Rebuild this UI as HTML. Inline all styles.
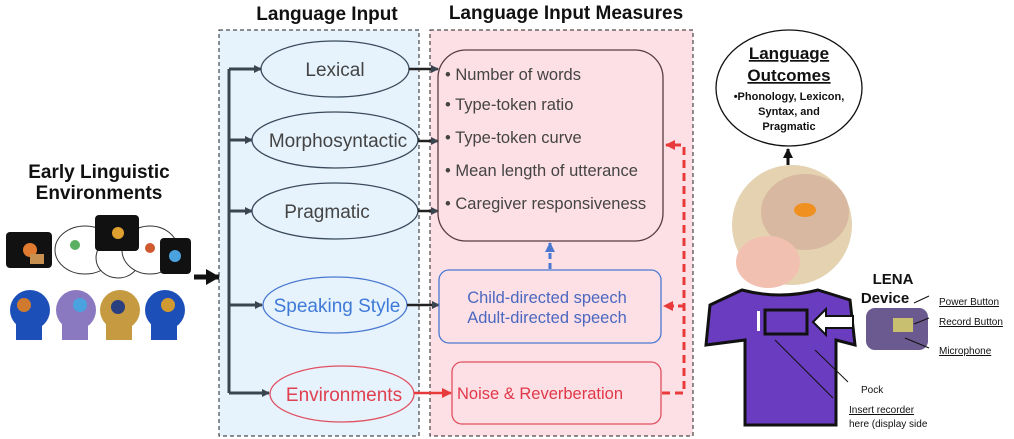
<!DOCTYPE html>
<html><head><meta charset="utf-8"><style>
body{margin:0;background:#fff;}
svg{display:block;font-family:"Liberation Sans",Arial,sans-serif;}
</style></head><body>
<svg width="1014" height="439" viewBox="0 0 1014 439" xmlns="http://www.w3.org/2000/svg">
<defs>
<marker id="ad" markerWidth="8" markerHeight="8" refX="7" refY="4" orient="auto" markerUnits="userSpaceOnUse"><path d="M0,0L8,4L0,8z" fill="#3a4550"/></marker>
<marker id="ab" markerWidth="10" markerHeight="10" refX="9" refY="5" orient="auto" markerUnits="userSpaceOnUse"><path d="M0,0L10,5L0,10z" fill="#111"/></marker>
<marker id="abig" markerWidth="14" markerHeight="16" refX="13" refY="8" orient="auto" markerUnits="userSpaceOnUse"><path d="M0,0L14,8L0,16z" fill="#111"/></marker>
<marker id="ar" markerWidth="10" markerHeight="10" refX="9" refY="5" orient="auto" markerUnits="userSpaceOnUse"><path d="M0,0L10,5L0,10z" fill="#e83a3a"/></marker>
<marker id="abl" markerWidth="10" markerHeight="10" refX="9" refY="5" orient="auto" markerUnits="userSpaceOnUse"><path d="M0,0L10,5L0,10z" fill="#4a78d0"/></marker>
</defs>
<!-- left title -->
<text x="99" y="178" font-size="19" font-weight="bold" text-anchor="middle" fill="#111">Early Linguistic</text>
<text x="99" y="199" font-size="19" font-weight="bold" text-anchor="middle" fill="#111">Environments</text>
<!-- speech bubbles -->
<ellipse cx="85" cy="250" rx="30" ry="24" fill="#fff" stroke="#333"/>
<ellipse cx="118" cy="258" rx="22" ry="20" fill="#fff" stroke="#333"/>
<ellipse cx="150" cy="250" rx="28" ry="24" fill="#fff" stroke="#333"/>
<rect x="6" y="232" width="46" height="36" rx="4" fill="#111"/>
<rect x="95" y="215" width="44" height="36" rx="4" fill="#111"/>
<rect x="160" y="238" width="31" height="36" rx="4" fill="#111"/>
<circle cx="30" cy="250" r="7" fill="#e07a30"/><rect x="30" y="254" width="14" height="10" fill="#c89050"/><circle cx="118" cy="233" r="6" fill="#e0a030"/><circle cx="175" cy="256" r="6" fill="#4aa3df"/>
<circle cx="75" cy="245" r="5" fill="#5ab060"/><circle cx="150" cy="248" r="5" fill="#d05a30"/>
<!-- heads -->
<circle cx="30" cy="310" r="20" fill="#1d4fb8"/><rect x="16" y="318" width="26" height="22" fill="#1d4fb8"/>
<circle cx="76" cy="310" r="20" fill="#8a78c0"/><rect x="62" y="318" width="26" height="22" fill="#8a78c0"/>
<circle cx="120" cy="310" r="20" fill="#c59a40"/><rect x="106" y="318" width="26" height="22" fill="#c59a40"/>
<circle cx="165" cy="310" r="20" fill="#1d4fb8"/><rect x="151" y="318" width="26" height="22" fill="#1d4fb8"/>
<circle cx="24" cy="305" r="7" fill="#d07a30"/><circle cx="80" cy="305" r="7" fill="#4aa3df"/><circle cx="118" cy="307" r="7" fill="#2a3f80"/><circle cx="168" cy="305" r="7" fill="#d09a30"/>
<!-- panels -->
<rect x="219" y="30" width="200" height="406" fill="#e6f3fd" stroke="#222" stroke-dasharray="4,3"/>
<rect x="430" y="30" width="263" height="406" fill="#fde0e6" stroke="#222" stroke-dasharray="4,3"/>
<text x="327" y="20" font-size="19" font-weight="bold" text-anchor="middle" fill="#111">Language Input</text>
<text x="566" y="19" font-size="19" font-weight="bold" text-anchor="middle" fill="#111">Language Input Measures</text>
<!-- big arrow in -->
<line x1="194" y1="277" x2="219" y2="277" stroke="#111" stroke-width="5" marker-end="url(#abig)"/>
<!-- trunk -->
<path d="M229,69V393" stroke="#3a4550" stroke-width="3" fill="none"/>
<line x1="229" y1="69" x2="261" y2="69" stroke="#3a4550" stroke-width="3" marker-end="url(#ad)"/>
<line x1="229" y1="140" x2="252" y2="140" stroke="#3a4550" stroke-width="3" marker-end="url(#ad)"/>
<line x1="229" y1="211" x2="252" y2="211" stroke="#3a4550" stroke-width="3" marker-end="url(#ad)"/>
<line x1="229" y1="305" x2="262" y2="305" stroke="#3a4550" stroke-width="3" marker-end="url(#ad)"/>
<line x1="229" y1="393" x2="269" y2="393" stroke="#3a4550" stroke-width="3" marker-end="url(#ad)"/>
<!-- ellipses -->
<g fill="none" stroke-width="1.3">
<ellipse cx="335" cy="69" rx="74" ry="28" stroke="#3a4a5a"/>
<ellipse cx="335" cy="140" rx="83" ry="28" stroke="#3a4a5a"/>
<ellipse cx="335" cy="211" rx="83" ry="28" stroke="#3a4a5a"/>
<ellipse cx="335" cy="305" rx="72" ry="28" stroke="#4a78d0"/>
<ellipse cx="342" cy="394" rx="72" ry="28" stroke="#e05060"/>
</g>
<g font-size="19" text-anchor="middle">
<text x="335" y="76" fill="#444">Lexical</text>
<text x="338" y="147" fill="#444">Morphosyntactic</text>
<text x="327" y="218" fill="#444">Pragmatic</text>
<text x="337" y="312" fill="#3f7ad8">Speaking Style</text>
<text x="344" y="401" fill="#e04050">Environments</text>
</g>
<!-- connectors to measures -->
<line x1="409" y1="69" x2="438" y2="69" stroke="#222" stroke-width="2.5" marker-end="url(#ad)"/>
<line x1="418" y1="141" x2="438" y2="141" stroke="#222" stroke-width="2.5" marker-end="url(#ad)"/>
<line x1="418" y1="211" x2="438" y2="211" stroke="#222" stroke-width="2.5" marker-end="url(#ad)"/>
<line x1="407" y1="305" x2="439" y2="305" stroke="#222" stroke-width="2.5" marker-end="url(#ad)"/>
<line x1="414" y1="393" x2="451" y2="393" stroke="#e83a3a" stroke-width="2.5" marker-end="url(#ar)"/>
<!-- boxes -->
<rect x="438" y="50" width="225" height="191" rx="28" fill="none" stroke="#5a3a40" stroke-width="1.3"/>
<g font-size="16.5" fill="#444">
<text x="445" y="80">• Number of words</text>
<text x="445" y="110">• Type-token ratio</text>
<text x="445" y="143">• Type-token curve</text>
<text x="445" y="176">• Mean length of utterance</text>
<text x="445" y="209">• Caregiver responsiveness</text>
</g>
<rect x="439" y="270" width="222" height="73" rx="10" fill="none" stroke="#4a78d0" stroke-width="1.3"/>
<text x="547" y="303" font-size="16.5" fill="#4a68c0" text-anchor="middle">Child-directed speech</text>
<text x="547" y="323" font-size="16.5" fill="#4a68c0" text-anchor="middle">Adult-directed speech</text>
<rect x="452" y="362" width="209" height="62" rx="10" fill="none" stroke="#e05060" stroke-width="1.3"/>
<text x="457" y="399" font-size="16.5" fill="#e03848">Noise &amp; Reverberation</text>
<!-- dashed -->
<line x1="550" y1="269" x2="550" y2="243" stroke="#4a78d0" stroke-width="3" stroke-dasharray="6,4" marker-end="url(#abl)"/>
<path d="M662,393H684V145H666" stroke="#e83a3a" stroke-width="3" fill="none" stroke-dasharray="8,5" marker-end="url(#ar)"/>
<line x1="684" y1="306" x2="664" y2="306" stroke="#e83a3a" stroke-width="3" stroke-dasharray="6,4" marker-end="url(#ar)"/>
<!-- outcomes -->
<ellipse cx="789" cy="88" rx="73" ry="58" fill="#fff" stroke="#111" stroke-width="1.3"/>
<g font-weight="bold" text-anchor="middle" fill="#111">
<text x="789" y="59" font-size="17" text-decoration="underline">Language</text>
<text x="789" y="81" font-size="17" text-decoration="underline">Outcomes</text>
<text x="789" y="100" font-size="11">•Phonology, Lexicon,</text>
<text x="789" y="115" font-size="11">Syntax, and</text>
<text x="789" y="130" font-size="11">Pragmatic</text>
</g>
<line x1="788" y1="165" x2="788" y2="149" stroke="#111" stroke-width="3" marker-end="url(#ab)"/>
<!-- baby -->
<ellipse cx="792" cy="225" rx="60" ry="60" fill="#e4d2b0"/>
<ellipse cx="805" cy="212" rx="44" ry="38" fill="#d8b8a0"/>
<ellipse cx="768" cy="262" rx="32" ry="26" fill="#f2c0b0"/>
<ellipse cx="805" cy="210" rx="11" ry="7" fill="#f09020"/>
<!-- shirt -->
<path d="M742,290 Q780,300 818,290 L850,300 L855,345 L836,340 L836,425 L745,425 L745,340 L706,345 L710,305 Z" fill="#6a3cc0" stroke="#111" stroke-width="3"/>
<rect x="757" y="311" width="3" height="20" fill="#fff"/>
<rect x="765" y="310" width="42" height="24" fill="none" stroke="#111" stroke-width="3"/>
<path d="M813,322 L826,309 L826,316 L853,316 L853,328 L826,328 L826,335 Z" fill="#fff" stroke="#111" stroke-width="2"/>
<line x1="775" y1="340" x2="833" y2="398" stroke="#111"/>
<line x1="815" y1="350" x2="848" y2="382" stroke="#111"/>
<text x="861" y="393" font-size="10" fill="#111">Pock</text>
<text x="849" y="413" font-size="10" fill="#111" text-decoration="underline">Insert recorder</text>
<text x="849" y="427" font-size="10" fill="#111">here (display side</text>
<!-- device -->
<text x="893" y="284" font-size="15" font-weight="bold" text-anchor="middle" fill="#111">LENA</text>
<text x="885" y="303" font-size="15" font-weight="bold" text-anchor="middle" fill="#111">Device</text>
<rect x="866" y="308" width="62" height="42" rx="9" fill="#6a5a90"/>
<rect x="893" y="318" width="20" height="14" fill="#c8c070"/>
<line x1="914" y1="303" x2="929" y2="296" stroke="#111"/>
<line x1="914" y1="324" x2="929" y2="318" stroke="#111"/>
<line x1="905" y1="338" x2="929" y2="348" stroke="#111"/>
<g font-size="10" fill="#111" text-decoration="underline">
<text x="939" y="305">Power Button</text>
<text x="939" y="325">Record Button</text>
<text x="939" y="354">Microphone</text>
</g>
</svg>
</body></html>
